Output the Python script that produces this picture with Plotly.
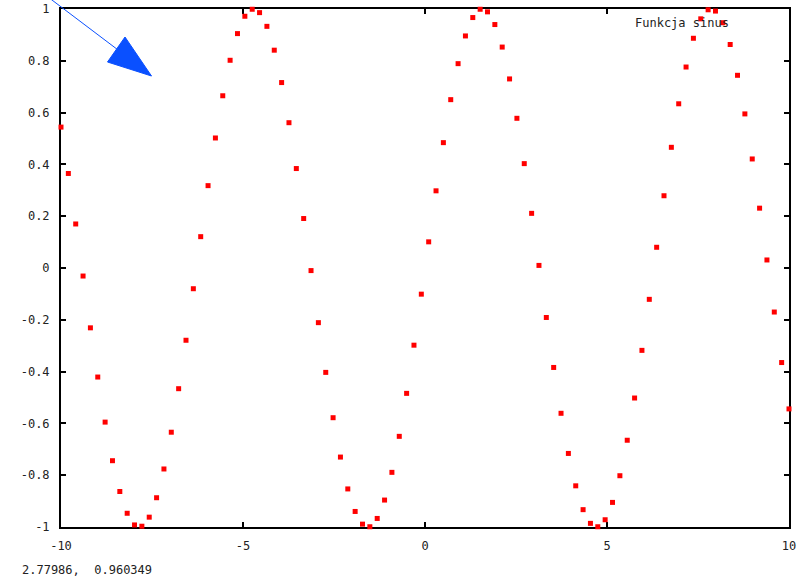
import plotly.graph_objects as go

# sample positions (100 samples from -10 to 10)
x_vals = [-10.000, -9.798, -9.596, -9.394, -9.192, -8.990, -8.788, -8.586, -8.384, -8.182,
          -7.980, -7.778, -7.576, -7.374, -7.172, -6.970, -6.768, -6.566, -6.364, -6.162,
          -5.960, -5.758, -5.556, -5.354, -5.152, -4.949, -4.747, -4.545, -4.343, -4.141,
          -3.939, -3.737, -3.535, -3.333, -3.131, -2.929, -2.727, -2.525, -2.323, -2.121,
          -1.919, -1.717, -1.515, -1.313, -1.111, -0.909, -0.707, -0.505, -0.303, -0.101,
          0.101, 0.303, 0.505, 0.707, 0.909, 1.111, 1.313, 1.515, 1.717, 1.919,
          2.121, 2.323, 2.525, 2.727, 2.929, 3.131, 3.333, 3.535, 3.737, 3.939,
          4.141, 4.343, 4.545, 4.747, 4.949, 5.152, 5.354, 5.556, 5.758, 5.960,
          6.162, 6.364, 6.566, 6.768, 6.970, 7.172, 7.374, 7.576, 7.778, 7.980,
          8.182, 8.384, 8.586, 8.788, 8.990, 9.192, 9.394, 9.596, 9.798, 10.000]

y_vals = [0.544, 0.365, 0.170, -0.031, -0.231, -0.421, -0.595, -0.744, -0.863, -0.947,
          -0.992, -0.997, -0.962, -0.887, -0.776, -0.634, -0.466, -0.279, -0.080, 0.121,
          0.318, 0.502, 0.665, 0.802, 0.905, 0.972, 0.999, 0.986, 0.933, 0.841,
          0.716, 0.561, 0.384, 0.191, -0.010, -0.211, -0.403, -0.578, -0.730, -0.853,
          -0.940, -0.989, -0.999, -0.967, -0.896, -0.789, -0.650, -0.484, -0.298, -0.101,
          0.101, 0.298, 0.484, 0.650, 0.789, 0.896, 0.967, 0.999, 0.989, 0.940,
          0.853, 0.730, 0.578, 0.403, 0.211, 0.010, -0.191, -0.384, -0.561, -0.716,
          -0.841, -0.933, -0.986, -0.999, -0.972, -0.905, -0.802, -0.665, -0.502, -0.318,
          -0.121, 0.080, 0.279, 0.466, 0.634, 0.776, 0.887, 0.962, 0.997, 0.992,
          0.947, 0.863, 0.744, 0.595, 0.421, 0.231, 0.031, -0.170, -0.365, -0.544]

x_ticks = [-10, -5, 0, 5, 10]
x_tick_labels = ["-10", "-5", "0", "5", "10"]
y_ticks = [-1, -0.8, -0.6, -0.4, -0.2, 0, 0.2, 0.4, 0.6, 0.8, 1]
y_tick_labels = ["-1", "-0.8", "-0.6", "-0.4", "-0.2", "0", "0.2", "0.4", "0.6", "0.8", "1"]

legend_label = "Funkcja sinus"
status_text = "2.77986,\u00a0\u00a00.960349"

W, H = 803, 579
ML, MR, MT, MB = 61, 14, 9, 52
PW, PH = W - ML - MR, H - MT - MB


def px(x):
    return (x - ML) / PW


def py(y):
    return (H - MB - y) / PH


FONT = "DejaVu Sans Mono"

fig = go.Figure()
fig.add_trace(go.Scatter(
    x=x_vals, y=y_vals, mode="markers", name=legend_label,
    marker=dict(symbol="square", size=5, color="#ff0000", line=dict(width=0)),
    cliponaxis=False, showlegend=False,
))

axis_common = dict(
    showgrid=False, zeroline=False, showline=True, linecolor="black", linewidth=2,
    mirror="allticks", ticks="inside", ticklen=5, tickwidth=2, tickcolor="black",
    layer="below traces", tickfont=dict(family=FONT, size=12, color="#222222"),
    ticklabelstandoff=7, automargin=False,
)

fig.update_layout(
    width=W, height=H,
    margin=dict(l=ML, r=MR, t=MT, b=MB, autoexpand=False),
    paper_bgcolor="white", plot_bgcolor="white",
    xaxis=dict(range=[-10, 10], tickvals=x_ticks, ticktext=x_tick_labels, **axis_common),
    yaxis=dict(range=[-1, 1], tickvals=y_ticks, ticktext=y_tick_labels, **axis_common),
    showlegend=False,
)

# legend-like key text
fig.add_annotation(
    xref="paper", yref="paper", x=px(731), y=py(23), xanchor="right", yanchor="middle",
    text=legend_label, showarrow=False, font=dict(family=FONT, size=12, color="#222222"),
)

# status text at the bottom
fig.add_annotation(
    xref="paper", yref="paper", x=px(20), y=py(570), xanchor="left", yanchor="middle",
    text=status_text, showarrow=False, font=dict(family=FONT, size=12, color="#222222"),
)

# arrow: line and filled head
ARROW = "#0a50ff"
fig.add_shape(type="line", xref="paper", yref="paper",
              x0=px(48), y0=py(-3), x1=px(130), y1=py(59),
              line=dict(color=ARROW, width=1))
head = "M {} {} L {} {} L {} {} Z".format(px(125), py(37), px(107.5), py(62), px(151.5), py(76))
fig.add_shape(type="path", xref="paper", yref="paper", path=head,
              fillcolor=ARROW, line=dict(color=ARROW, width=1))

fig.write_html(
    "out.html",
    config={"displayModeBar": False},
    post_script="document.body.style.margin='0px';document.body.style.overflow='hidden';",
)
